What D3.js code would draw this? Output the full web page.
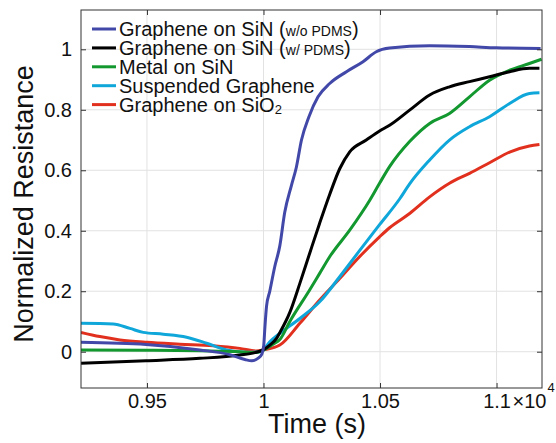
<!DOCTYPE html>
<html lang="en">
<head>
<meta charset="UTF-8">
<title>resistance</title>
<script src="https://cdn.jsdelivr.net/npm/d3@7"></script>
<style>
  * { margin: 0; padding: 0; }
  body { background: #fff; }
  svg { display: block; font-family: "Liberation Sans", Arial, sans-serif; }
</style>
</head>
<body>
<div class="context"></div>
<script>
// time in s, resistance normalized
let woPdmsT = [9217, 9496, 9727, 9856, 9920, 9950, 9976, 9993, 10001, 10006, 10013, 10027, 10048, 10070, 10091, 10120, 10141, 10163, 10195, 10234, 10284, 10356, 10427, 10484, 10541, 10713, 10884, 10999, 11189];
let woPdmsV = [0.031, 0.024, 0.006, -0.010, -0.026, -0.030, -0.022, -0.008, 0.02, 0.08, 0.15, 0.2, 0.28, 0.35, 0.46, 0.55, 0.61, 0.70, 0.777, 0.843, 0.887, 0.926, 0.959, 0.992, 1.004, 1.012, 1.009, 1.005, 1.003];

let wPdmsT = [9217, 9496, 9727, 9898, 9963, 10000, 10027, 10056, 10070, 10113, 10156, 10198, 10241, 10284, 10327, 10370, 10441, 10498, 10541, 10627, 10713, 10798, 10884, 10970, 11056, 11141, 11184];
let wPdmsV = [-0.038, -0.030, -0.022, -0.011, -0.003, 0.007, 0.022, 0.044, 0.063, 0.13, 0.226, 0.325, 0.425, 0.52, 0.605, 0.661, 0.70, 0.73, 0.749, 0.799, 0.849, 0.876, 0.893, 0.909, 0.926, 0.937, 0.937];

let metalT = [9217, 9496, 9727, 9898, 9963, 10000, 10041, 10070, 10113, 10198, 10241, 10284, 10370, 10456, 10498, 10541, 10627, 10713, 10798, 10884, 10970, 11056, 11141, 11193];
let metalV = [0.006, 0.005, 0.003, 0.0, -0.003, 0.005, 0.025, 0.04, 0.1, 0.204, 0.259, 0.314, 0.402, 0.501, 0.557, 0.612, 0.695, 0.755, 0.788, 0.843, 0.898, 0.931, 0.953, 0.967];

let suspT = [9217, 9355, 9427, 9484, 9570, 9670, 9756, 9841, 9927, 9984, 9998, 10027, 10070, 10156, 10241, 10327, 10413, 10498, 10584, 10627, 10713, 10798, 10884, 10970, 11056, 11141, 11184];
let suspV = [0.094, 0.092, 0.077, 0.064, 0.058, 0.048, 0.028, 0.006, -0.002, 0.0, 0.006, 0.033, 0.061, 0.11, 0.165, 0.248, 0.335, 0.42, 0.505, 0.555, 0.634, 0.70, 0.744, 0.777, 0.821, 0.854, 0.856];

let sio2T = [9217, 9298, 9384, 9499, 9641, 9784, 9898, 9970, 10000, 10070, 10156, 10241, 10327, 10413, 10498, 10541, 10627, 10713, 10798, 10884, 10970, 11056, 11141, 11184];
let sio2V = [0.064, 0.05, 0.039, 0.031, 0.025, 0.02, 0.011, 0.002, 0.006, 0.022, 0.094, 0.171, 0.242, 0.315, 0.38, 0.41, 0.457, 0.512, 0.557, 0.59, 0.625, 0.66, 0.68, 0.685];

let labels = ["Graphene on SiN (w/o PDMS)", "Graphene on SiN (w/ PDMS)", "Metal on SiN", "Suspended Graphene", "Graphene on SiO2"];
let colors = ["#4148a8", "#000000", "#12982f", "#0fa6da", "#e1301e"];
let xTicks = [9500, 10000, 10500, 11000];
let yTicks = [0, 0.2, 0.4, 0.6, 0.8, 1];

let W = 556, H = 443;
let m = { top: 10, right: 14, bottom: 55, left: 81 };

let svg = d3.select(".context").append("svg")
    .attr("width", W)
    .attr("height", H);

let x = d3.scaleLinear().domain([9217, 11195]).range([m.left, W - m.right]);
let y = d3.scaleLinear().domain([-0.12, 1.13]).range([H - m.bottom, m.top]);

// grid
svg.append("g").selectAll("line").data(xTicks).enter().append("line")
    .attr("x1", d => x(d)).attr("x2", d => x(d))
    .attr("y1", m.top).attr("y2", H - m.bottom)
    .attr("stroke", "#e2e2e2").attr("stroke-width", 1);
svg.append("g").selectAll("line").data(yTicks).enter().append("line")
    .attr("x1", m.left).attr("x2", W - m.right)
    .attr("y1", d => y(d)).attr("y2", d => y(d))
    .attr("stroke", "#e2e2e2").attr("stroke-width", 1);

// lines
svg.append("clipPath").attr("id", "clip").append("rect")
    .attr("x", m.left).attr("y", m.top)
    .attr("width", W - m.left - m.right).attr("height", H - m.top - m.bottom);

let series = [[woPdmsT, woPdmsV], [wPdmsT, wPdmsV], [metalT, metalV], [suspT, suspV], [sio2T, sio2V]];
let line = d3.line().x(d => x(d[0])).y(d => y(d[1])).curve(d3.curveMonotoneX);
// draw in reverse so blue is on top
series.map((s, i) => ({ pts: d3.zip(s[0], s[1]), i: i })).reverse().forEach(s => {
    svg.append("path")
        .attr("clip-path", "url(#clip)")
        .attr("d", line(s.pts))
        .attr("fill", "none")
        .attr("stroke", colors[s.i])
        .attr("stroke-width", 3)
        .attr("stroke-linejoin", "round");
});

// axes (ticks inward on all four sides)
let fmtX = d => String(+(d / 10000).toFixed(2));
let fmtY = d => String(+d.toFixed(1));
function styleAxis(g) {
    g.select(".domain").remove();
    g.selectAll("line").attr("stroke", "#333");
    g.selectAll("text").attr("font-size", 20).attr("fill", "#111").attr("font-family", "Liberation Sans, Arial, sans-serif");
}
svg.append("g").attr("transform", `translate(0,${H - m.bottom})`)
    .call(d3.axisBottom(x).tickValues(xTicks).tickFormat(fmtX).tickSize(-5).tickPadding(6))
    .call(styleAxis);
svg.append("g").attr("transform", `translate(0,${m.top})`)
    .call(d3.axisTop(x).tickValues(xTicks).tickFormat("").tickSize(-5))
    .call(styleAxis);
svg.append("g").attr("transform", `translate(${m.left},0)`)
    .call(d3.axisLeft(y).tickValues(yTicks).tickFormat(fmtY).tickSize(-5).tickPadding(9))
    .call(styleAxis);
svg.append("g").attr("transform", `translate(${W - m.right},0)`)
    .call(d3.axisRight(y).tickValues(yTicks).tickFormat("").tickSize(-5))
    .call(styleAxis);

svg.append("rect")
    .attr("x", m.left).attr("y", m.top)
    .attr("width", W - m.left - m.right).attr("height", H - m.top - m.bottom)
    .attr("fill", "none").attr("stroke", "#333").attr("stroke-width", 1);

// x10^4 exponent
let expo = svg.append("text")
    .attr("x", x(11000) + 16).attr("y", 408)
    .attr("font-size", 20).attr("fill", "#111");
expo.append("tspan").text("\u00d710");
expo.append("tspan").attr("font-size", 13).attr("dy", -16).attr("dx", 1).text("4");

// axis labels
svg.append("text")
    .attr("x", 317).attr("y", 433)
    .attr("text-anchor", "middle")
    .attr("font-size", 27).attr("fill", "#111")
    .text("Time (s)");
svg.append("text")
    .attr("transform", "translate(33,204) rotate(-90)")
    .attr("text-anchor", "middle")
    .attr("font-size", 27).attr("fill", "#111")
    .text("Normalized Resistance");

// legend
let leg = svg.append("g");
labels.forEach((lab, i) => {
    let ly = 29 + i * 18.9;
    leg.append("line")
        .attr("x1", 92).attr("x2", 116)
        .attr("y1", ly).attr("y2", ly)
        .attr("stroke", colors[i]).attr("stroke-width", 3);
    let t = leg.append("text")
        .attr("x", 119).attr("y", ly).attr("dy", "0.35em")
        .attr("font-size", 20).attr("fill", "#111");
    let p = lab.indexOf("(");
    if (p >= 0) {
        t.append("tspan").text(lab.slice(0, p + 1));
        t.append("tspan").attr("font-size", 14).text(lab.slice(p + 1, -1));
        t.append("tspan").text(")");
    } else if (lab.endsWith("2")) {
        t.append("tspan").text(lab.slice(0, -1));
        t.append("tspan").attr("font-size", 13).attr("dy", 2).text("2");
    } else {
        t.text(lab);
    }
});
</script>
</body>
</html>
